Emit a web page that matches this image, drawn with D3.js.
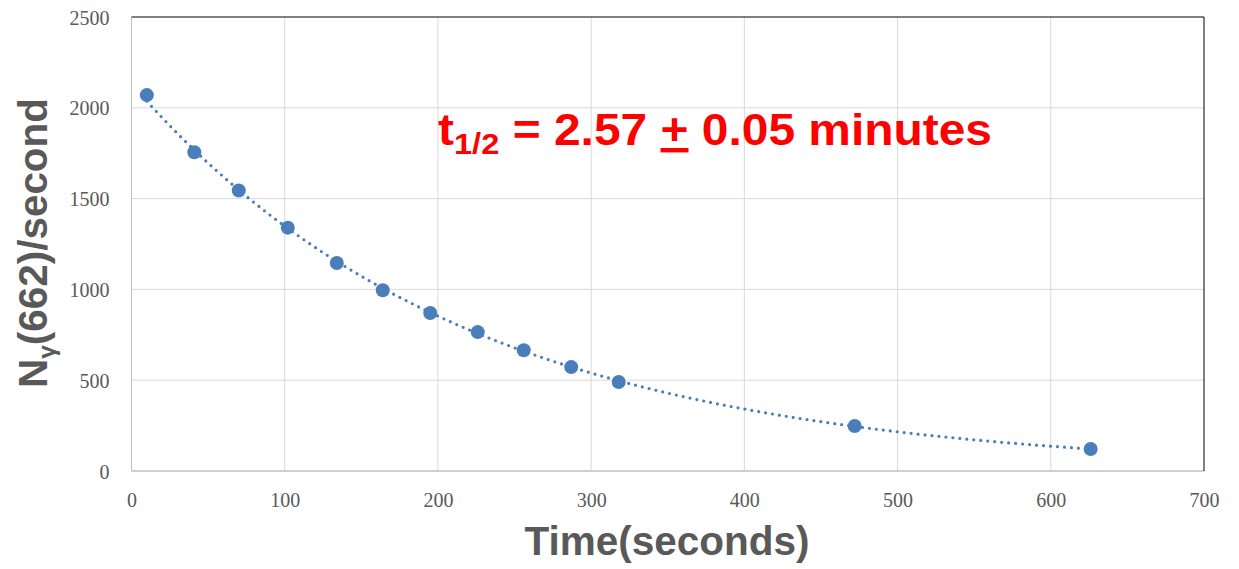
<!DOCTYPE html>
<html>
<head>
<meta charset="utf-8">
<script src="https://cdn.jsdelivr.net/npm/d3@7"></script>
<style>
  body { margin: 0; background: #fff; }
  .tick text { font-family: "Liberation Serif", "DejaVu Serif", serif; fill: #595959; font-size: 20px; }
  .title { font-family: "Liberation Sans Narrow", "Liberation Sans", sans-serif; font-weight: bold; fill: #595959; }
</style>
</head>
<body>
<div id="chart"></div>
<script>
// measured points
const timeSec = [10, 41, 70, 102, 134, 164, 195, 226, 256, 287, 318, 472, 626];
const countRate = [2070, 1755, 1545, 1340, 1145, 995, 870, 765, 665, 572, 490, 248, 121];
const xTicks = [0, 100, 200, 300, 400, 500, 600, 700];
const yTicks = [0, 500, 1000, 1500, 2000, 2500];

const W = 1239, H = 569;
const m = { top: 17, right: 35, bottom: 98, left: 131.5 };

const svg = d3.select('#chart').append('svg')
  .attr('width', W)
  .attr('height', H);

const x = d3.scaleLinear().domain([0, 700]).range([m.left, W - m.right]);
const y = d3.scaleLinear().domain([0, 2500]).range([H - m.bottom, m.top]);

// grid
const gGrid = svg.append('g');
xTicks.slice(1, -1).forEach((t) => {
  gGrid.append('line')
    .attr('x1', x(t)).attr('x2', x(t))
    .attr('y1', y(0)).attr('y2', y(2500))
    .attr('stroke', '#d9d9d9').attr('stroke-width', 1);
});
yTicks.slice(1, -1).forEach((t) => {
  gGrid.append('line')
    .attr('x1', x(0)).attr('x2', x(700))
    .attr('y1', y(t)).attr('y2', y(t))
    .attr('stroke', '#d9d9d9').attr('stroke-width', 1);
});

// frame: grey left/bottom, dark top/right
svg.append('line').attr('x1', x(0)).attr('x2', x(0)).attr('y1', y(0)).attr('y2', y(2500)).attr('stroke', '#bfbfbf');
svg.append('line').attr('x1', x(0)).attr('x2', x(700)).attr('y1', y(0)).attr('y2', y(0)).attr('stroke', '#bfbfbf').attr('stroke-width', 1.5);
svg.append('line').attr('x1', x(0)).attr('x2', x(700)).attr('y1', y(2500)).attr('y2', y(2500)).attr('stroke', '#000');
svg.append('line').attr('x1', x(700)).attr('x2', x(700)).attr('y1', y(0)).attr('y2', y(2500)).attr('stroke', '#000');

// axes (labels only)
const fmt = d3.format('d');
const xAxis = svg.append('g')
  .attr('transform', `translate(0,${y(0)})`)
  .call(d3.axisBottom(x).tickValues(xTicks).tickFormat(fmt).tickSize(0).tickPadding(22));
xAxis.select('.domain').remove();

const yAxis = svg.append('g')
  .attr('transform', `translate(${x(0) - 22},0)`)
  .call(d3.axisLeft(y).tickValues(yTicks).tickFormat(fmt).tickSize(0).tickPadding(0));
yAxis.select('.domain').remove();
yAxis.selectAll('.tick text').attr('dy', '0.35em');

// exponential trendline, fitted to ln(rate)
const n = timeSec.length;
const lnY = countRate.map(Math.log);
const mx = d3.mean(timeSec), my = d3.mean(lnY);
const slope = d3.sum(timeSec, (t, i) => (t - mx) * (lnY[i] - my)) / d3.sum(timeSec, (t) => (t - mx) * (t - mx));
const icpt = my - slope * mx;
const fitPts = d3.range(timeSec[0], timeSec[n - 1] + 0.1, 2).map((t) => [t, Math.exp(icpt + slope * t)]);

svg.append('path')
  .attr('d', d3.line().x((d) => x(d[0])).y((d) => y(d[1])).curve(d3.curveLinear)(fitPts))
  .attr('fill', 'none')
  .attr('stroke', '#4a7ebb')
  .attr('stroke-width', 3.2)
  .attr('stroke-linecap', 'round')
  .attr('stroke-dasharray', '0 7');

svg.append('g').selectAll('circle')
  .data(timeSec)
  .join('circle')
  .attr('cx', (d) => x(d))
  .attr('cy', (d, i) => y(countRate[i]))
  .attr('r', 7)
  .attr('fill', '#4a7ebb');

// axis titles
svg.append('text')
  .attr('class', 'title')
  .attr('x', 667).attr('y', 555)
  .attr('text-anchor', 'middle')
  .attr('font-size', 40)
  .attr('textLength', 285).attr('lengthAdjust', 'spacingAndGlyphs')
  .text('Time(seconds)');

const yt = svg.append('text')
  .attr('class', 'title')
  .attr('transform', 'translate(47,388) rotate(-90)')
  .attr('font-size', 40)
  .attr('textLength', 290).attr('lengthAdjust', 'spacingAndGlyphs');
yt.append('tspan').text('N');
yt.append('tspan').attr('font-size', 24).attr('dy', 8).text('\u03b3');
yt.append('tspan').attr('dy', -8).text('(662)/second');

// half-life label
const ann = svg.append('text')
  .attr('x', 438).attr('y', 145)
  .attr('fill', '#ff0000')
  .attr('font-family', '"Liberation Sans Narrow", "Liberation Sans", sans-serif')
  .attr('font-weight', 'bold')
  .attr('font-size', 44)
  .attr('textLength', 554).attr('lengthAdjust', 'spacingAndGlyphs');
ann.append('tspan').text('t');
ann.append('tspan').attr('font-size', 30).attr('dy', 9).text('1/2');
ann.append('tspan').attr('dy', -9).text(' = 2.57 ');
ann.append('tspan').attr('text-decoration', 'underline').text('+');
ann.append('tspan').text(' 0.05 minutes');
</script>
</body>
</html>
